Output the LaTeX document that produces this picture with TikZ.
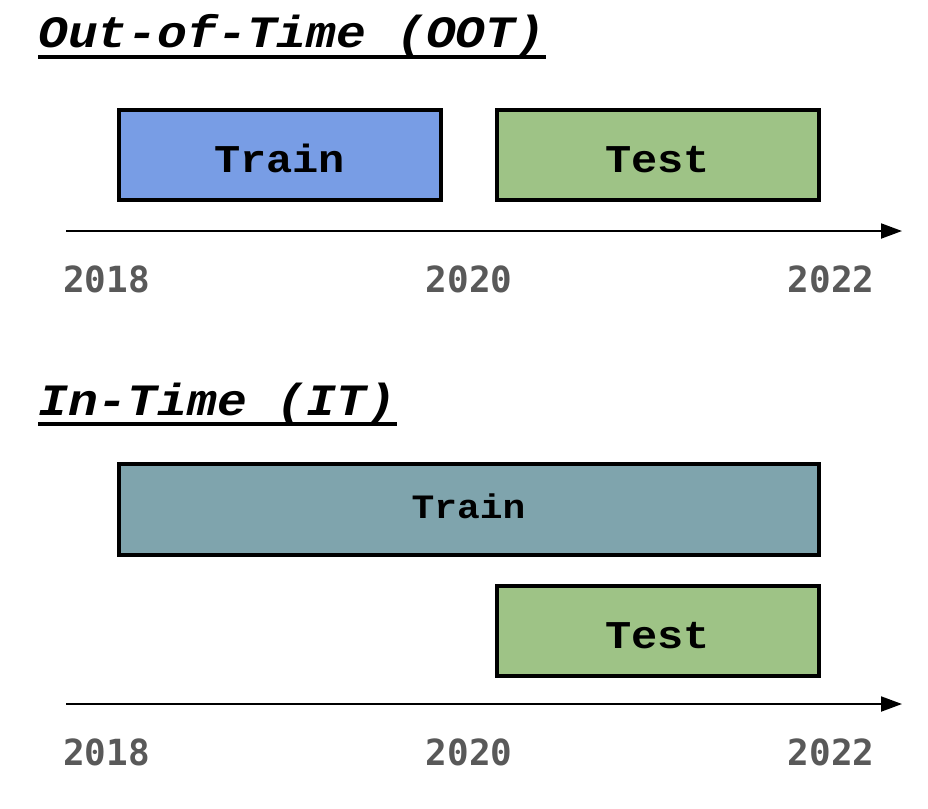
\documentclass[tikz,border=0pt]{standalone}
\usepackage{fontspec}
\newfontfamily\courfont{Liberation Mono}[FakeStretch=1.11]
\newfontfamily\yearfont{DejaVu Sans Mono}
\usetikzlibrary{arrows.meta}
\definecolor{trainblue}{HTML}{789DE5}
\definecolor{trainteal}{HTML}{7FA4AD}
\definecolor{testgreen}{HTML}{9EC386}
\definecolor{yeargray}{HTML}{595959}
\tikzset{
  databox/.style={draw=black, line width=3pt},
  boxlabel/.style={anchor=base, inner sep=0pt, font=\courfont\bfseries\fontsize{29.5pt}{33pt}\selectfont},
  boxlabelsmall/.style={anchor=base, inner sep=0pt, font=\courfont\bfseries\fontsize{25.6pt}{29pt}\selectfont},
  titletext/.style={anchor=base west, inner sep=0pt, font=\courfont\bfseries\itshape\fontsize{33.6pt}{37pt}\selectfont},
  titleline/.style={line width=3pt},
  yearlabel/.style={anchor=base, inner sep=0pt, text=yeargray, font=\yearfont\bfseries\fontsize{27pt}{30pt}\selectfont},
  timeaxis/.style={line width=1.5pt, -{Triangle[length=15.75pt, width=11.25pt]}}
}
\begin{document}
\begin{tikzpicture}[x=0.75pt, y=-0.75pt]
\useasboundingbox (0,0) rectangle (928,808);

% ---------- Out-of-Time ----------
\node[titletext] (t1) at (38,47) {Out-of-Time (OOT)};
\draw[titleline] ([yshift=-7.5pt]t1.base west) -- ([yshift=-7.5pt]t1.base east);

\draw[databox, fill=trainblue] (118.5,109.5) rectangle (440.5,199.5);
\draw[databox, fill=testgreen] (496.5,109.5) rectangle (818.5,199.5);
\node[boxlabel] (tr1) at (279.5,172) {Train};
\node[boxlabel] (te1) at (657.5,172) {Test};

\coordinate (a1s) at (66,231);
\coordinate (a1e) at (902,231);
\draw[timeaxis] (a1s) -- (a1e);

\node[yearlabel] (y1a) at (106.5,292) {2018};
\node[yearlabel] (y1b) at (469,292) {2020};
\node[yearlabel] (y1c) at (831,292) {2022};

% ---------- In-Time ----------
\node[titletext] (t2) at (38,415) {In-Time (IT)};
\draw[titleline] ([yshift=-6.5pt]t2.base west) -- ([yshift=-6.5pt]t2.base east);

\draw[databox, fill=trainteal] (118.5,464) rectangle (818.5,554.5);
\node[boxlabelsmall] (tr2) at (468.5,518.5) {Train};

\draw[databox, fill=testgreen] (496.5,586) rectangle (818.5,676);
\node[boxlabel] (te2) at (657.5,648.5) {Test};

\coordinate (a2s) at (66,704);
\coordinate (a2e) at (902,704);
\draw[timeaxis] (a2s) -- (a2e);

\node[yearlabel] (y2a) at (106.5,765) {2018};
\node[yearlabel] (y2b) at (469,765) {2020};
\node[yearlabel] (y2c) at (831,765) {2022};
\end{tikzpicture}
\end{document}
